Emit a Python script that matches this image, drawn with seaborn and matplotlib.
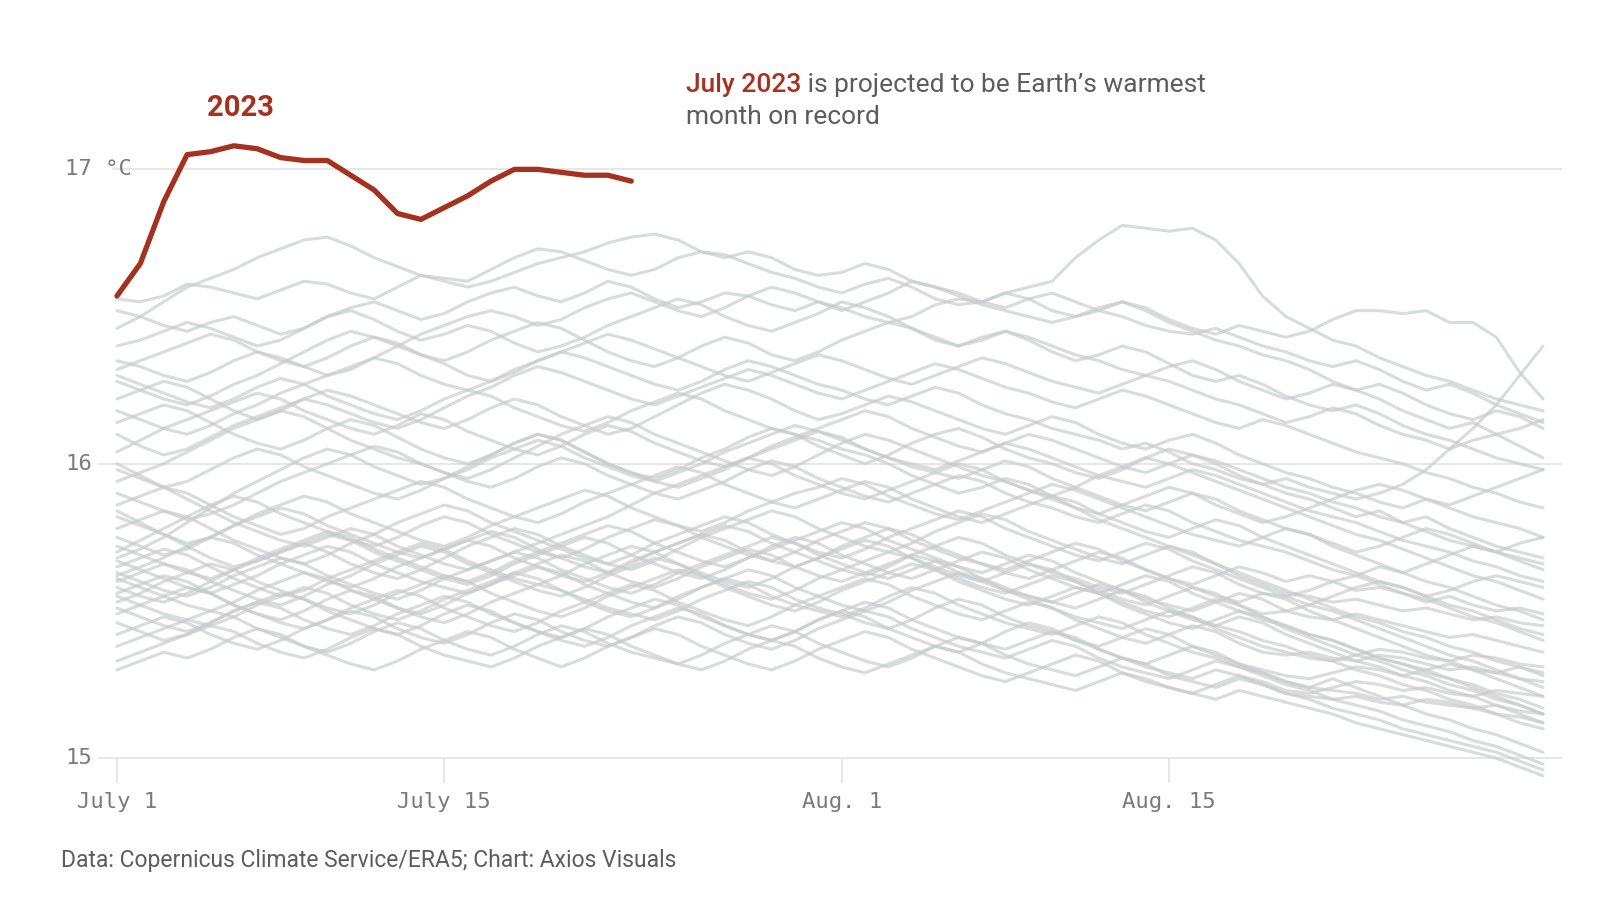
# imports

import matplotlib
matplotlib.use('Agg')
import matplotlib.pyplot as plt
import pandas as pd
import seaborn as sns

# daily global mean surface air temperature, July 1 -> Aug 31 (day 0 = July 1)

temp_2023 = [16.57, 16.68, 16.89, 17.05, 17.06, 17.08, 17.07, 17.04, 17.03, 17.03,
             16.98, 16.93, 16.85, 16.83, 16.87, 16.91, 16.96, 17.00, 17.00, 16.99,
             16.98, 16.98, 16.96]

past_01 = [16.56, 16.55, 16.57, 16.61, 16.60, 16.58, 16.56, 16.59, 16.62, 16.61,
           16.58, 16.56, 16.60, 16.64, 16.63, 16.62, 16.66, 16.70, 16.73, 16.72,
           16.69, 16.66, 16.64, 16.66, 16.70, 16.72, 16.71, 16.68, 16.65, 16.63,
           16.60, 16.58, 16.61, 16.63, 16.60, 16.56, 16.54, 16.55, 16.58, 16.56,
           16.52, 16.50, 16.52, 16.55, 16.53, 16.49, 16.46, 16.44, 16.47, 16.45,
           16.43, 16.45, 16.49, 16.52, 16.52, 16.51, 16.52, 16.48, 16.48, 16.43,
           16.31, 16.22]
past_02 = [16.52, 16.50, 16.47, 16.45, 16.48, 16.50, 16.47, 16.44, 16.46, 16.50,
           16.53, 16.55, 16.52, 16.49, 16.51, 16.55, 16.58, 16.60, 16.57, 16.55,
           16.58, 16.62, 16.60, 16.56, 16.53, 16.55, 16.58, 16.57, 16.54, 16.52,
           16.55, 16.53, 16.50, 16.48, 16.50, 16.54, 16.56, 16.55, 16.58, 16.60,
           16.62, 16.70, 16.76, 16.81, 16.80, 16.79, 16.80, 16.76, 16.68, 16.57,
           16.50, 16.46, 16.42, 16.40, 16.36, 16.33, 16.30, 16.28, 16.25, 16.22,
           16.20, 16.18]
past_03 = [16.46, 16.50, 16.55, 16.60, 16.63, 16.66, 16.70, 16.73, 16.76, 16.77,
           16.74, 16.70, 16.67, 16.64, 16.62, 16.60, 16.62, 16.65, 16.68, 16.70,
           16.72, 16.75, 16.77, 16.78, 16.76, 16.72, 16.70, 16.72, 16.70, 16.66,
           16.64, 16.65, 16.68, 16.66, 16.62, 16.60, 16.58, 16.55, 16.53, 16.56,
           16.58, 16.55, 16.52, 16.50, 16.47, 16.45, 16.44, 16.46, 16.43, 16.40,
           16.38, 16.35, 16.33, 16.35, 16.32, 16.28, 16.25, 16.27, 16.24, 16.20,
           16.17, 16.14]
past_04 = [16.40, 16.42, 16.45, 16.48, 16.46, 16.43, 16.40, 16.42, 16.46, 16.50,
           16.52, 16.49, 16.45, 16.42, 16.44, 16.47, 16.45, 16.41, 16.38, 16.40,
           16.43, 16.47, 16.50, 16.53, 16.56, 16.54, 16.50, 16.47, 16.45, 16.48,
           16.51, 16.55, 16.53, 16.50, 16.46, 16.42, 16.40, 16.43, 16.45, 16.42,
           16.38, 16.35, 16.37, 16.40, 16.38, 16.34, 16.30, 16.28, 16.30, 16.27,
           16.23, 16.20, 16.18, 16.20, 16.17, 16.13, 16.10, 16.08, 16.05, 16.02,
           16.00, 15.98]
past_05 = [16.35, 16.33, 16.30, 16.28, 16.31, 16.35, 16.38, 16.36, 16.33, 16.30,
           16.32, 16.36, 16.40, 16.44, 16.47, 16.50, 16.52, 16.50, 16.47, 16.49,
           16.53, 16.56, 16.58, 16.55, 16.52, 16.50, 16.53, 16.57, 16.60, 16.58,
           16.55, 16.52, 16.55, 16.58, 16.62, 16.60, 16.57, 16.54, 16.52, 16.50,
           16.48, 16.50, 16.53, 16.55, 16.52, 16.48, 16.45, 16.42, 16.40, 16.37,
           16.35, 16.32, 16.28, 16.25, 16.27, 16.24, 16.20, 16.17, 16.15, 16.18,
           16.16, 16.12]
past_06 = [16.32, 16.35, 16.38, 16.41, 16.44, 16.42, 16.38, 16.35, 16.33, 16.36,
           16.40, 16.43, 16.41, 16.37, 16.34, 16.30, 16.28, 16.31, 16.35, 16.38,
           16.36, 16.33, 16.30, 16.27, 16.25, 16.28, 16.32, 16.35, 16.33, 16.30,
           16.27, 16.25, 16.22, 16.20, 16.23, 16.26, 16.24, 16.20, 16.17, 16.15,
           16.12, 16.10, 16.08, 16.05, 16.07, 16.04, 16.00, 15.98, 15.95, 15.93,
           15.95, 15.92, 15.90, 15.88, 15.90, 15.93, 15.98, 16.05, 16.12, 16.20,
           16.30, 16.40]
past_07 = [16.28, 16.25, 16.22, 16.20, 16.23, 16.27, 16.30, 16.34, 16.38, 16.42,
           16.45, 16.43, 16.40, 16.37, 16.35, 16.38, 16.42, 16.45, 16.48, 16.46,
           16.42, 16.38, 16.35, 16.33, 16.36, 16.40, 16.43, 16.41, 16.37, 16.35,
           16.38, 16.42, 16.45, 16.48, 16.46, 16.43, 16.40, 16.42, 16.45, 16.43,
           16.40, 16.37, 16.35, 16.32, 16.30, 16.33, 16.35, 16.32, 16.28, 16.25,
           16.22, 16.24, 16.27, 16.25, 16.22, 16.18, 16.15, 16.12, 16.14, 16.10,
           16.06, 16.02]
past_08 = [16.22, 16.25, 16.28, 16.26, 16.22, 16.18, 16.15, 16.18, 16.22, 16.25,
           16.23, 16.20, 16.17, 16.14, 16.12, 16.15, 16.19, 16.22, 16.20, 16.16,
           16.13, 16.10, 16.12, 16.16, 16.20, 16.24, 16.27, 16.25, 16.22, 16.18,
           16.15, 16.17, 16.20, 16.23, 16.21, 16.18, 16.15, 16.12, 16.10, 16.13,
           16.16, 16.14, 16.10, 16.07, 16.05, 16.08, 16.10, 16.07, 16.03, 16.00,
           15.97, 15.95, 15.92, 15.90, 15.87, 15.85, 15.88, 15.85, 15.82, 15.80,
           15.78, 15.75]
past_09 = [16.18, 16.15, 16.12, 16.10, 16.13, 16.17, 16.20, 16.24, 16.27, 16.30,
           16.33, 16.36, 16.34, 16.30, 16.27, 16.25, 16.28, 16.32, 16.35, 16.38,
           16.41, 16.44, 16.42, 16.39, 16.36, 16.33, 16.30, 16.28, 16.31, 16.34,
           16.37, 16.35, 16.32, 16.29, 16.27, 16.30, 16.33, 16.36, 16.34, 16.31,
           16.28, 16.26, 16.24, 16.27, 16.30, 16.28, 16.25, 16.22, 16.20, 16.17,
           16.14, 16.16, 16.19, 16.17, 16.13, 16.10, 16.08, 16.05, 16.08, 16.10,
           16.12, 16.15]
past_10 = [16.14, 16.17, 16.20, 16.18, 16.14, 16.10, 16.07, 16.05, 16.08, 16.12,
           16.15, 16.13, 16.09, 16.05, 16.02, 16.00, 16.03, 16.07, 16.10, 16.08,
           16.04, 16.00, 15.97, 15.95, 15.98, 16.02, 16.05, 16.09, 16.12, 16.10,
           16.06, 16.03, 16.00, 16.03, 16.07, 16.10, 16.12, 16.09, 16.05, 16.02,
           16.00, 15.97, 15.95, 15.98, 16.02, 16.05, 16.03, 16.00, 15.96, 15.93,
           15.90, 15.88, 15.85, 15.82, 15.84, 15.80, 15.77, 15.74, 15.72, 15.70,
           15.67, 15.64]
past_11 = [16.10, 16.06, 16.03, 16.05, 16.09, 16.13, 16.16, 16.19, 16.22, 16.20,
           16.17, 16.14, 16.12, 16.15, 16.19, 16.23, 16.26, 16.30, 16.33, 16.31,
           16.28, 16.25, 16.22, 16.20, 16.23, 16.26, 16.29, 16.32, 16.30, 16.27,
           16.24, 16.22, 16.25, 16.28, 16.31, 16.34, 16.32, 16.29, 16.26, 16.24,
           16.21, 16.19, 16.22, 16.25, 16.23, 16.20, 16.17, 16.14, 16.12, 16.15,
           16.13, 16.10, 16.07, 16.04, 16.02, 16.00, 15.97, 15.95, 15.92, 15.90,
           15.87, 15.85]
past_12 = [16.04, 16.08, 16.12, 16.15, 16.18, 16.21, 16.24, 16.22, 16.18, 16.15,
           16.12, 16.10, 16.13, 16.17, 16.15, 16.11, 16.08, 16.05, 16.03, 16.06,
           16.10, 16.13, 16.11, 16.07, 16.04, 16.01, 15.99, 16.02, 16.06, 16.09,
           16.12, 16.15, 16.18, 16.16, 16.12, 16.09, 16.06, 16.04, 16.07, 16.10,
           16.08, 16.05, 16.02, 15.99, 15.97, 16.00, 16.03, 16.01, 15.98, 15.95,
           15.92, 15.90, 15.87, 15.85, 15.82, 15.80, 15.82, 15.78, 15.75, 15.72,
           15.70, 15.68]
past_13 = [15.98, 15.95, 15.92, 15.94, 15.98, 16.02, 16.05, 16.03, 15.99, 15.96,
           15.93, 15.90, 15.88, 15.91, 15.95, 15.98, 16.02, 16.05, 16.08, 16.06,
           16.02, 15.99, 15.96, 15.94, 15.97, 16.00, 16.04, 16.07, 16.10, 16.13,
           16.11, 16.08, 16.05, 16.02, 16.00, 15.98, 16.01, 16.04, 16.07, 16.05,
           16.02, 15.99, 15.96, 15.94, 15.92, 15.95, 15.98, 15.96, 15.93, 15.90,
           15.87, 15.84, 15.82, 15.80, 15.77, 15.74, 15.72, 15.70, 15.67, 15.65,
           15.62, 15.60]
past_14 = [15.94, 15.97, 16.00, 16.04, 16.08, 16.12, 16.15, 16.18, 16.16, 16.12,
           16.08, 16.05, 16.02, 16.00, 15.97, 15.95, 15.98, 16.02, 16.06, 16.10,
           16.13, 16.16, 16.14, 16.10, 16.07, 16.04, 16.01, 15.98, 15.96, 15.99,
           16.03, 16.07, 16.10, 16.08, 16.05, 16.02, 15.99, 15.96, 15.94, 15.91,
           15.89, 15.92, 15.96, 15.99, 16.02, 16.00, 15.97, 15.94, 15.91, 15.88,
           15.85, 15.82, 15.79, 15.76, 15.74, 15.71, 15.68, 15.65, 15.62, 15.60,
           15.57, 15.54]
past_15 = [15.90, 15.87, 15.84, 15.81, 15.83, 15.86, 15.90, 15.94, 15.97, 16.00,
           16.03, 16.06, 16.04, 16.00, 15.97, 15.94, 15.92, 15.95, 15.99, 16.02,
           16.00, 15.96, 15.93, 15.90, 15.88, 15.91, 15.94, 15.98, 16.01, 15.99,
           15.95, 15.92, 15.89, 15.87, 15.90, 15.93, 15.96, 15.94, 15.90, 15.87,
           15.85, 15.82, 15.80, 15.83, 15.86, 15.84, 15.80, 15.77, 15.74, 15.72,
           15.70, 15.67, 15.64, 15.62, 15.59, 15.56, 15.54, 15.51, 15.48, 15.46,
           15.43, 15.40]
past_16 = [15.86, 15.89, 15.92, 15.90, 15.86, 15.82, 15.79, 15.76, 15.78, 15.82,
           15.85, 15.88, 15.91, 15.94, 15.92, 15.88, 15.85, 15.82, 15.80, 15.83,
           15.87, 15.90, 15.93, 15.96, 15.99, 15.97, 15.93, 15.90, 15.87, 15.85,
           15.88, 15.91, 15.94, 15.92, 15.88, 15.85, 15.82, 15.80, 15.83, 15.86,
           15.89, 15.87, 15.83, 15.80, 15.77, 15.75, 15.78, 15.81, 15.79, 15.75,
           15.72, 15.69, 15.66, 15.63, 15.60, 15.58, 15.55, 15.52, 15.50, 15.47,
           15.44, 15.42]
past_17 = [15.82, 15.79, 15.76, 15.73, 15.75, 15.79, 15.83, 15.86, 15.89, 15.87,
           15.83, 15.80, 15.77, 15.74, 15.72, 15.75, 15.79, 15.82, 15.85, 15.88,
           15.91, 15.89, 15.85, 15.82, 15.79, 15.77, 15.80, 15.84, 15.87, 15.90,
           15.92, 15.95, 15.93, 15.89, 15.86, 15.83, 15.81, 15.84, 15.87, 15.90,
           15.93, 15.91, 15.88, 15.85, 15.82, 15.79, 15.76, 15.74, 15.72, 15.75,
           15.78, 15.76, 15.72, 15.69, 15.66, 15.63, 15.60, 15.58, 15.55, 15.52,
           15.50, 15.47]
past_18 = [15.84, 15.80, 15.76, 15.72, 15.68, 15.65, 15.67, 15.70, 15.73, 15.70,
           15.66, 15.63, 15.61, 15.64, 15.68, 15.72, 15.75, 15.78, 15.76, 15.72,
           15.69, 15.66, 15.64, 15.67, 15.71, 15.75, 15.78, 15.81, 15.84, 15.82,
           15.78, 15.75, 15.72, 15.70, 15.73, 15.77, 15.80, 15.83, 15.81, 15.77,
           15.74, 15.71, 15.68, 15.66, 15.69, 15.72, 15.70, 15.66, 15.62, 15.59,
           15.56, 15.55, 15.53, 15.54, 15.52, 15.50, 15.51, 15.49, 15.47, 15.48,
           15.46, 15.45]
past_19 = [15.78, 15.81, 15.84, 15.82, 15.78, 15.74, 15.71, 15.68, 15.66, 15.69,
           15.73, 15.76, 15.80, 15.83, 15.86, 15.84, 15.80, 15.77, 15.74, 15.71,
           15.68, 15.66, 15.69, 15.73, 15.76, 15.79, 15.82, 15.80, 15.76, 15.73,
           15.70, 15.68, 15.71, 15.75, 15.78, 15.81, 15.84, 15.82, 15.78, 15.75,
           15.72, 15.69, 15.67, 15.70, 15.73, 15.71, 15.67, 15.64, 15.61, 15.58,
           15.55, 15.52, 15.50, 15.47, 15.44, 15.41, 15.38, 15.35, 15.33, 15.30,
           15.27, 15.24]
past_20 = [15.75, 15.72, 15.69, 15.71, 15.75, 15.79, 15.82, 15.85, 15.83, 15.79,
           15.76, 15.73, 15.70, 15.68, 15.71, 15.74, 15.77, 15.75, 15.71, 15.68,
           15.65, 15.63, 15.66, 15.70, 15.73, 15.76, 15.74, 15.70, 15.67, 15.65,
           15.68, 15.72, 15.75, 15.78, 15.76, 15.72, 15.69, 15.66, 15.64, 15.67,
           15.70, 15.73, 15.71, 15.67, 15.64, 15.61, 15.59, 15.62, 15.65, 15.63,
           15.60, 15.62, 15.60, 15.57, 15.58, 15.56, 15.53, 15.55, 15.52, 15.50,
           15.51, 15.49]
past_21 = [15.72, 15.69, 15.66, 15.63, 15.61, 15.64, 15.68, 15.71, 15.74, 15.77,
           15.75, 15.71, 15.68, 15.65, 15.62, 15.60, 15.63, 15.67, 15.70, 15.73,
           15.76, 15.79, 15.77, 15.73, 15.70, 15.67, 15.65, 15.68, 15.72, 15.75,
           15.73, 15.69, 15.66, 15.63, 15.61, 15.64, 15.67, 15.70, 15.68, 15.64,
           15.61, 15.58, 15.56, 15.59, 15.62, 15.60, 15.56, 15.53, 15.50, 15.47,
           15.45, 15.42, 15.40, 15.37, 15.34, 15.32, 15.29, 15.27, 15.24, 15.21,
           15.18, 15.15]
past_22 = [15.70, 15.74, 15.78, 15.82, 15.86, 15.89, 15.87, 15.83, 15.80, 15.77,
           15.74, 15.72, 15.75, 15.79, 15.82, 15.80, 15.76, 15.73, 15.70, 15.68,
           15.71, 15.75, 15.78, 15.81, 15.79, 15.75, 15.72, 15.69, 15.67, 15.70,
           15.74, 15.77, 15.80, 15.78, 15.74, 15.71, 15.68, 15.66, 15.63, 15.61,
           15.64, 15.67, 15.70, 15.68, 15.64, 15.61, 15.58, 15.55, 15.53, 15.56,
           15.54, 15.50, 15.47, 15.44, 15.41, 15.38, 15.35, 15.33, 15.30, 15.27,
           15.24, 15.21]
past_23 = [15.67, 15.64, 15.61, 15.58, 15.56, 15.59, 15.62, 15.66, 15.69, 15.72,
           15.70, 15.66, 15.63, 15.60, 15.58, 15.56, 15.59, 15.63, 15.66, 15.69,
           15.67, 15.63, 15.60, 15.58, 15.61, 15.65, 15.68, 15.71, 15.69, 15.65,
           15.62, 15.60, 15.63, 15.66, 15.69, 15.67, 15.63, 15.60, 15.57, 15.55,
           15.53, 15.56, 15.59, 15.57, 15.53, 15.50, 15.47, 15.45, 15.48, 15.46,
           15.42, 15.39, 15.36, 15.33, 15.31, 15.28, 15.26, 15.23, 15.21, 15.18,
           15.15, 15.12]
past_24 = [15.65, 15.68, 15.71, 15.69, 15.65, 15.61, 15.58, 15.55, 15.57, 15.61,
           15.64, 15.67, 15.70, 15.73, 15.71, 15.67, 15.64, 15.61, 15.59, 15.62,
           15.66, 15.69, 15.72, 15.70, 15.66, 15.63, 15.60, 15.58, 15.61, 15.65,
           15.68, 15.71, 15.74, 15.72, 15.68, 15.65, 15.62, 15.60, 15.63, 15.66,
           15.64, 15.60, 15.57, 15.54, 15.52, 15.55, 15.58, 15.56, 15.52, 15.49,
           15.50, 15.52, 15.55, 15.58, 15.60, 15.58, 15.55, 15.57, 15.60, 15.62,
           15.60, 15.58]
past_25 = [15.63, 15.60, 15.57, 15.55, 15.58, 15.62, 15.65, 15.68, 15.66, 15.62,
           15.59, 15.56, 15.54, 15.57, 15.61, 15.64, 15.67, 15.70, 15.68, 15.64,
           15.61, 15.58, 15.56, 15.59, 15.63, 15.66, 15.69, 15.72, 15.75, 15.73,
           15.69, 15.66, 15.63, 15.61, 15.64, 15.67, 15.65, 15.61, 15.58, 15.55,
           15.53, 15.51, 15.54, 15.57, 15.55, 15.51, 15.48, 15.45, 15.43, 15.40,
           15.38, 15.35, 15.33, 15.30, 15.28, 15.25, 15.23, 15.20, 15.18, 15.15,
           15.12, 15.10]
past_26 = [15.62, 15.65, 15.68, 15.72, 15.75, 15.73, 15.69, 15.66, 15.63, 15.60,
           15.58, 15.61, 15.65, 15.68, 15.71, 15.74, 15.72, 15.68, 15.65, 15.62,
           15.60, 15.63, 15.67, 15.70, 15.73, 15.76, 15.79, 15.77, 15.73, 15.70,
           15.67, 15.64, 15.62, 15.65, 15.69, 15.72, 15.75, 15.73, 15.69, 15.66,
           15.63, 15.61, 15.58, 15.56, 15.59, 15.62, 15.65, 15.63, 15.59, 15.56,
           15.55, 15.57, 15.60, 15.62, 15.65, 15.63, 15.66, 15.69, 15.72, 15.70,
           15.73, 15.75]
past_27 = [15.61, 15.58, 15.55, 15.52, 15.50, 15.53, 15.57, 15.60, 15.63, 15.61,
           15.57, 15.54, 15.51, 15.49, 15.52, 15.56, 15.59, 15.62, 15.65, 15.63,
           15.59, 15.56, 15.53, 15.51, 15.54, 15.58, 15.61, 15.64, 15.62, 15.58,
           15.55, 15.52, 15.50, 15.53, 15.57, 15.60, 15.63, 15.61, 15.57, 15.54,
           15.51, 15.48, 15.46, 15.44, 15.47, 15.50, 15.48, 15.44, 15.41, 15.38,
           15.36, 15.34, 15.33, 15.35, 15.37, 15.36, 15.34, 15.33, 15.35, 15.34,
           15.32, 15.31]
past_28 = [15.60, 15.63, 15.66, 15.64, 15.60, 15.57, 15.54, 15.52, 15.55, 15.59,
           15.62, 15.66, 15.69, 15.72, 15.70, 15.66, 15.63, 15.60, 15.57, 15.55,
           15.58, 15.62, 15.65, 15.68, 15.66, 15.62, 15.59, 15.56, 15.54, 15.57,
           15.61, 15.64, 15.67, 15.70, 15.68, 15.64, 15.61, 15.58, 15.56, 15.59,
           15.62, 15.60, 15.56, 15.53, 15.50, 15.48, 15.51, 15.54, 15.52, 15.48,
           15.45, 15.42, 15.40, 15.37, 15.34, 15.32, 15.30, 15.27, 15.25, 15.22,
           15.20, 15.17]
past_29 = [15.58, 15.55, 15.53, 15.56, 15.60, 15.64, 15.67, 15.70, 15.73, 15.76,
           15.74, 15.70, 15.67, 15.64, 15.61, 15.59, 15.62, 15.66, 15.69, 15.72,
           15.75, 15.73, 15.69, 15.66, 15.63, 15.61, 15.64, 15.68, 15.71, 15.74,
           15.77, 15.80, 15.78, 15.74, 15.71, 15.68, 15.65, 15.63, 15.66, 15.69,
           15.67, 15.63, 15.60, 15.57, 15.54, 15.52, 15.50, 15.53, 15.56, 15.54,
           15.50, 15.48, 15.47, 15.49, 15.47, 15.45, 15.43, 15.41, 15.42, 15.40,
           15.38, 15.36]
past_30 = [15.56, 15.59, 15.62, 15.60, 15.56, 15.52, 15.49, 15.47, 15.50, 15.54,
           15.57, 15.55, 15.51, 15.48, 15.46, 15.49, 15.53, 15.56, 15.59, 15.57,
           15.53, 15.50, 15.48, 15.51, 15.55, 15.58, 15.61, 15.59, 15.55, 15.52,
           15.50, 15.48, 15.51, 15.55, 15.58, 15.56, 15.52, 15.49, 15.46, 15.44,
           15.42, 15.45, 15.48, 15.46, 15.42, 15.39, 15.36, 15.34, 15.31, 15.29,
           15.26, 15.24, 15.27, 15.24, 15.21, 15.18, 15.15, 15.13, 15.10, 15.08,
           15.05, 15.02]
past_31 = [15.55, 15.52, 15.49, 15.47, 15.45, 15.48, 15.52, 15.55, 15.58, 15.56,
           15.52, 15.49, 15.47, 15.50, 15.54, 15.57, 15.60, 15.63, 15.61, 15.57,
           15.54, 15.51, 15.49, 15.47, 15.50, 15.54, 15.57, 15.60, 15.58, 15.54,
           15.51, 15.49, 15.46, 15.44, 15.47, 15.51, 15.54, 15.52, 15.48, 15.45,
           15.43, 15.40, 15.38, 15.41, 15.44, 15.42, 15.38, 15.35, 15.32, 15.30,
           15.28, 15.27, 15.29, 15.31, 15.30, 15.28, 15.30, 15.32, 15.30, 15.29,
           15.31, 15.29]
past_32 = [15.53, 15.56, 15.60, 15.63, 15.66, 15.64, 15.60, 15.57, 15.54, 15.51,
           15.49, 15.52, 15.56, 15.59, 15.62, 15.60, 15.56, 15.53, 15.50, 15.48,
           15.51, 15.55, 15.58, 15.61, 15.64, 15.62, 15.58, 15.55, 15.52, 15.50,
           15.53, 15.57, 15.60, 15.63, 15.66, 15.64, 15.60, 15.57, 15.54, 15.52,
           15.55, 15.58, 15.56, 15.52, 15.49, 15.46, 15.44, 15.47, 15.50, 15.48,
           15.44, 15.41, 15.38, 15.35, 15.33, 15.30, 15.28, 15.25, 15.23, 15.20,
           15.18, 15.15]
past_33 = [15.51, 15.48, 15.45, 15.43, 15.46, 15.50, 15.53, 15.51, 15.47, 15.44,
           15.42, 15.45, 15.49, 15.52, 15.55, 15.53, 15.49, 15.46, 15.43, 15.41,
           15.44, 15.48, 15.51, 15.54, 15.52, 15.48, 15.45, 15.42, 15.40, 15.43,
           15.47, 15.50, 15.53, 15.51, 15.47, 15.44, 15.41, 15.39, 15.37, 15.40,
           15.43, 15.41, 15.37, 15.34, 15.31, 15.29, 15.27, 15.30, 15.28, 15.25,
           15.22, 15.20, 15.17, 15.15, 15.13, 15.10, 15.08, 15.06, 15.04, 15.02,
           14.99, 14.96]
past_34 = [15.49, 15.52, 15.55, 15.58, 15.56, 15.52, 15.49, 15.46, 15.44, 15.47,
           15.51, 15.54, 15.57, 15.55, 15.51, 15.48, 15.45, 15.43, 15.46, 15.50,
           15.53, 15.56, 15.59, 15.57, 15.53, 15.50, 15.47, 15.45, 15.48, 15.52,
           15.55, 15.58, 15.61, 15.59, 15.55, 15.52, 15.49, 15.47, 15.50, 15.53,
           15.51, 15.47, 15.44, 15.41, 15.39, 15.42, 15.45, 15.43, 15.39, 15.36,
           15.35, 15.36, 15.34, 15.33, 15.35, 15.34, 15.32, 15.30, 15.31, 15.29,
           15.27, 15.26]
past_35 = [15.46, 15.43, 15.40, 15.42, 15.46, 15.50, 15.53, 15.56, 15.54, 15.50,
           15.47, 15.44, 15.42, 15.45, 15.49, 15.52, 15.50, 15.46, 15.43, 15.40,
           15.38, 15.41, 15.45, 15.48, 15.51, 15.49, 15.45, 15.42, 15.40, 15.43,
           15.47, 15.50, 15.48, 15.44, 15.41, 15.38, 15.36, 15.39, 15.43, 15.46,
           15.44, 15.40, 15.37, 15.34, 15.32, 15.35, 15.38, 15.36, 15.32, 15.29,
           15.26, 15.24, 15.23, 15.22, 15.20, 15.21, 15.19, 15.18, 15.17, 15.15,
           15.14, 15.12]
past_36 = [15.42, 15.45, 15.48, 15.46, 15.42, 15.39, 15.37, 15.40, 15.44, 15.47,
           15.50, 15.48, 15.44, 15.41, 15.39, 15.42, 15.46, 15.49, 15.47, 15.43,
           15.40, 15.38, 15.41, 15.45, 15.48, 15.46, 15.42, 15.39, 15.37, 15.40,
           15.44, 15.47, 15.50, 15.48, 15.44, 15.41, 15.38, 15.36, 15.34, 15.37,
           15.40, 15.38, 15.34, 15.31, 15.29, 15.27, 15.30, 15.33, 15.31, 15.28,
           15.25, 15.23, 15.20, 15.18, 15.16, 15.13, 15.11, 15.09, 15.06, 15.04,
           15.01, 14.98]
past_37 = [15.38, 15.41, 15.44, 15.47, 15.50, 15.48, 15.44, 15.41, 15.38, 15.36,
           15.39, 15.43, 15.46, 15.44, 15.40, 15.37, 15.35, 15.38, 15.42, 15.45,
           15.43, 15.39, 15.36, 15.34, 15.32, 15.35, 15.39, 15.42, 15.45, 15.43,
           15.39, 15.36, 15.33, 15.31, 15.34, 15.38, 15.41, 15.39, 15.35, 15.32,
           15.30, 15.28, 15.31, 15.34, 15.32, 15.28, 15.26, 15.24, 15.27, 15.25,
           15.22, 15.21, 15.20, 15.21, 15.19, 15.18, 15.20, 15.19, 15.17, 15.18,
           15.16, 15.15]
past_38 = [15.33, 15.36, 15.39, 15.42, 15.45, 15.43, 15.39, 15.36, 15.34, 15.37,
           15.41, 15.44, 15.42, 15.38, 15.35, 15.33, 15.31, 15.34, 15.38, 15.41,
           15.44, 15.42, 15.38, 15.35, 15.32, 15.30, 15.33, 15.37, 15.40, 15.38,
           15.34, 15.31, 15.29, 15.32, 15.35, 15.38, 15.36, 15.32, 15.29, 15.27,
           15.25, 15.23, 15.26, 15.29, 15.27, 15.24, 15.22, 15.20, 15.23, 15.21,
           15.19, 15.17, 15.15, 15.12, 15.10, 15.08, 15.06, 15.04, 15.02, 15.00,
           14.97, 14.94]
past_39 = [15.30, 15.33, 15.36, 15.34, 15.37, 15.41, 15.44, 15.42, 15.38, 15.35,
           15.32, 15.30, 15.33, 15.37, 15.40, 15.43, 15.41, 15.37, 15.34, 15.31,
           15.34, 15.38, 15.41, 15.44, 15.42, 15.38, 15.35, 15.32, 15.30, 15.33,
           15.37, 15.40, 15.43, 15.41, 15.37, 15.34, 15.31, 15.28, 15.26, 15.29,
           15.32, 15.35, 15.33, 15.29, 15.26, 15.24, 15.22, 15.25, 15.28, 15.26,
           15.23, 15.22, 15.24, 15.26, 15.25, 15.23, 15.24, 15.22, 15.21, 15.23,
           15.22, 15.21]
past_40 = [15.68, 15.71, 15.75, 15.80, 15.85, 15.90, 15.94, 15.98, 16.02, 16.05,
           16.03, 15.99, 15.96, 15.93, 15.95, 15.99, 16.03, 16.07, 16.10, 16.08,
           16.04, 16.00, 15.97, 15.94, 15.92, 15.95, 15.98, 16.02, 16.05, 16.08,
           16.11, 16.09, 16.05, 16.02, 15.99, 15.97, 15.95, 15.98, 16.01, 15.99,
           15.95, 15.92, 15.89, 15.86, 15.84, 15.87, 15.90, 15.88, 15.84, 15.81,
           15.78, 15.76, 15.73, 15.70, 15.72, 15.75, 15.78, 15.76, 15.73, 15.70,
           15.68, 15.66]
past_41 = [16.00, 15.96, 15.92, 15.88, 15.84, 15.80, 15.77, 15.74, 15.72, 15.75,
           15.78, 15.76, 15.72, 15.69, 15.66, 15.64, 15.67, 15.70, 15.73, 15.76,
           15.79, 15.82, 15.86, 15.90, 15.93, 15.96, 15.99, 16.02, 16.00, 15.96,
           15.93, 15.90, 15.88, 15.91, 15.94, 15.97, 16.00, 15.98, 15.94, 15.91,
           15.88, 15.85, 15.83, 15.86, 15.89, 15.92, 15.90, 15.86, 15.83, 15.80,
           15.82, 15.85, 15.88, 15.91, 15.93, 15.91, 15.88, 15.86, 15.89, 15.92,
           15.95, 15.98]
past_42 = [16.30, 16.27, 16.24, 16.21, 16.19, 16.22, 16.26, 16.29, 16.27, 16.23,
           16.20, 16.17, 16.15, 16.18, 16.22, 16.25, 16.23, 16.19, 16.16, 16.13,
           16.11, 16.14, 16.18, 16.21, 16.24, 16.22, 16.18, 16.15, 16.12, 16.10,
           16.08, 16.05, 16.03, 16.00, 15.96, 15.93, 15.90, 15.92, 15.95, 15.93,
           15.89, 15.85, 15.81, 15.78, 15.75, 15.72, 15.69, 15.66, 15.63, 15.60,
           15.57, 15.54, 15.51, 15.48, 15.46, 15.43, 15.41, 15.38, 15.36, 15.33,
           15.31, 15.28]

past_lines = [past_01, past_02, past_03, past_04, past_05, past_06, past_07,
              past_08, past_09, past_10, past_11, past_12, past_13, past_14,
              past_15, past_16, past_17, past_18, past_19, past_20, past_21,
              past_22, past_23, past_24, past_25, past_26, past_27, past_28,
              past_29, past_30, past_31, past_32, past_33, past_34, past_35,
              past_36, past_37, past_38, past_39, past_40, past_41, past_42]

tick_days = [0, 14, 31, 45]
tick_labels = ['July 1', 'July 15', 'Aug. 1', 'Aug. 15']
y_ticks = [15, 16, 17]
y_labels = ['15', '16', '17 °C']

# long form for seaborn

rows = []
for i, vals in enumerate(past_lines):
    for d, v in enumerate(vals):
        rows.append((i, d, v))
df_past = pd.DataFrame(rows, columns=['line', 'day', 'temp'])
df_2023 = pd.DataFrame({'day': range(len(temp_2023)), 'temp': temp_2023})

# styling

sns.set_style('white')
plt.rcParams['font.family'] = ['Roboto', 'DejaVu Sans']

RED = '#a5311f'
GRAY_TXT = '#5c5c5c'
TICK_TXT = '#7a7a7a'
GRID = '#e3e3e3'
MONO = 'DejaVu Sans Mono'

fig = plt.figure(figsize=(16, 9.05), dpi=100)
ax = fig.add_axes([0.06125, 0.1297, 0.915, 0.8133])

# gridlines and x ticks (drawn by hand to get the axios look)
ax.axhline(15, xmin=0.0, xmax=1, color=GRID, lw=1.2, zorder=0)
ax.axhline(16, xmin=0.0, xmax=1, color=GRID, lw=1.2, zorder=0)
ax.axhline(17, xmin=0.0103, xmax=1, color=GRID, lw=1.2, zorder=0)
ax.vlines(tick_days, 14.915, 15, color=GRID, lw=1.2, zorder=0, clip_on=False)

# past years
sns.lineplot(data=df_past, x='day', y='temp', units='line', estimator=None,
             color='#c6caca', alpha=0.65, lw=2.2, legend=False, ax=ax)

# 2023
sns.lineplot(data=df_2023, x='day', y='temp', color=RED, lw=3.8,
             solid_capstyle='round', legend=False, ax=ax)

ax.set_xlim(-0.81, 61.81)
ax.set_ylim(14.9, 17.4)

for s in ax.spines.values():
    s.set_visible(False)

ax.set_xticks(tick_days)
ax.set_xticklabels(tick_labels, family=MONO, fontsize=16, color=TICK_TXT)
ax.tick_params(axis='x', length=0, pad=3.5)
ax.set_yticks([])
ax.set_xlabel('')
ax.set_ylabel('')

for v, lab in zip(y_ticks, y_labels):
    ax.text(-0.0225, v, lab, transform=ax.get_yaxis_transform(), ha='left',
            va='center', family=MONO, fontsize=16, color=TICK_TXT)

# annotations
ax.text(5.3, 17.21, '2023', ha='center', va='center', fontsize=21,
        fontweight='bold', color=RED)

t1 = fig.text(686 / 1600, 1 - 85 / 905, 'July 2023', ha='left', va='center',
              fontsize=19, fontweight='medium', color=RED)
ax.annotate(' is projected to be Earth’s warmest', xy=(1, 0), xycoords=t1,
            ha='left', va='bottom', fontsize=19, color=GRAY_TXT)
fig.text(686 / 1600, 1 - 117 / 905, 'month on record', ha='left', va='center',
         fontsize=19, color=GRAY_TXT)

fig.text(61 / 1600, 1 - 860 / 905,
         'Data: Copernicus Climate Service/ERA5; Chart: Axios Visuals',
         ha='left', va='center', fontsize=16.5, color=GRAY_TXT)

plt.savefig('out.png', dpi=100)
